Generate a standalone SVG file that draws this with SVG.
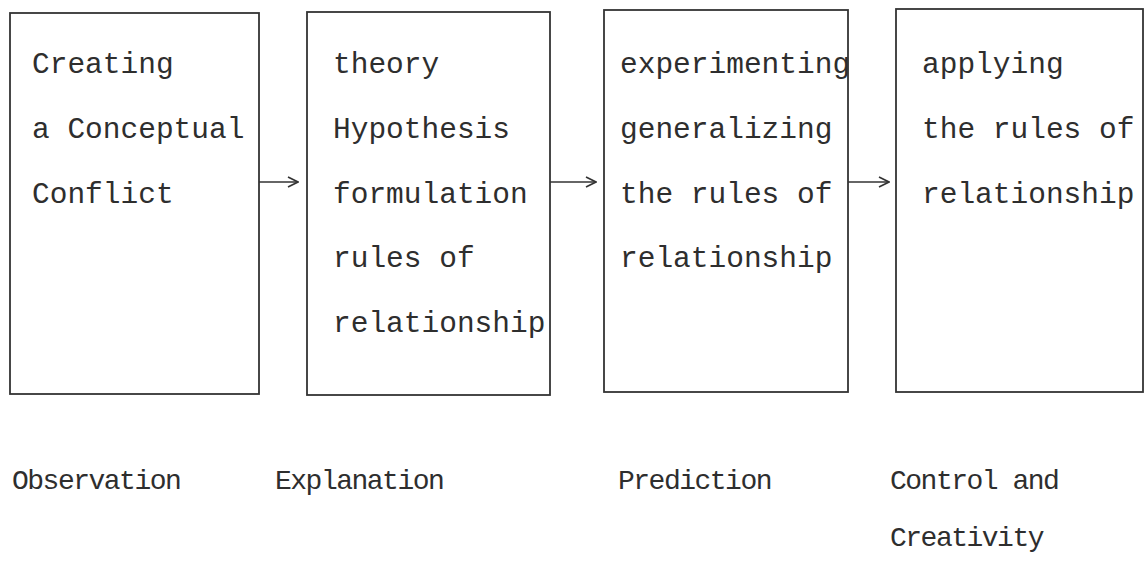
<svg xmlns="http://www.w3.org/2000/svg" width="1145" height="561" viewBox="0 0 1145 561">
<defs>
<marker id="ah" viewBox="0 0 12 12" refX="11" refY="6" markerWidth="12" markerHeight="12" markerUnits="userSpaceOnUse" orient="auto">
<path d="M1,1 L11,6 L1,11" fill="none" stroke="#333" stroke-width="1.6"/>
</marker>
<style>
.box{fill:none;stroke:#333;stroke-width:1.8}
.t{font-family:"Liberation Mono","Courier New",monospace;font-size:29.5px;fill:#2e2e2e}
.l{font-family:"Liberation Mono","Courier New",monospace;font-size:28px;letter-spacing:-1.5px;fill:#2e2e2e}
.c{fill:none;stroke:#333;stroke-width:1.6}
</style>
</defs>
<rect width="1145" height="561" fill="#fff"/>
<g id="node-observation">
<rect class="box" x="10" y="13" width="249" height="381"/>
<text class="t" x="32" y="73">Creating</text>
<text class="t" x="32" y="138">a Conceptual</text>
<text class="t" x="32" y="203">Conflict</text>
</g>
<g id="node-explanation">
<rect class="box" x="307" y="12" width="243" height="383"/>
<text class="t" x="333" y="73">theory</text>
<text class="t" x="333" y="138">Hypothesis</text>
<text class="t" x="333" y="203">formulation</text>
<text class="t" x="333" y="267">rules of</text>
<text class="t" x="333" y="332">relationship</text>
</g>
<g id="node-prediction">
<rect class="box" x="604" y="10" width="244" height="382"/>
<text class="t" x="620" y="73">experimenting</text>
<text class="t" x="620" y="138">generalizing</text>
<text class="t" x="620" y="203">the rules of</text>
<text class="t" x="620" y="267">relationship</text>
</g>
<g id="node-control">
<rect class="box" x="896" y="9" width="247" height="383"/>
<text class="t" x="922" y="73">applying</text>
<text class="t" x="922" y="138">the rules of</text>
<text class="t" x="922" y="203">relationship</text>
</g>
<g id="labels">
<text class="l" x="12" y="489">Observation</text>
<text class="l" x="275" y="489">Explanation</text>
<text class="l" x="618" y="489">Prediction</text>
<text class="l" x="890" y="489">Control and</text>
<text class="l" x="890" y="546">Creativity</text>
</g>
<g id="connectors">
<line class="c" x1="259" y1="182" x2="298" y2="182" marker-end="url(#ah)"/>
<line class="c" x1="550" y1="182" x2="596" y2="182" marker-end="url(#ah)"/>
<line class="c" x1="848" y1="182" x2="889" y2="182" marker-end="url(#ah)"/>
</g>
</svg>
